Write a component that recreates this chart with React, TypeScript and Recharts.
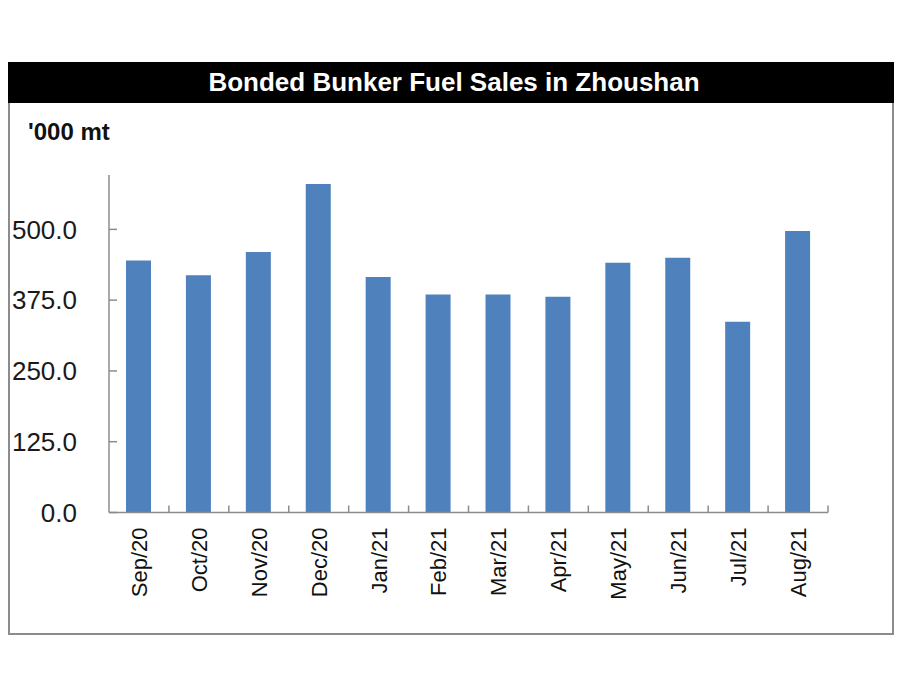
import React from "react";
import { BarChart, Bar, XAxis, YAxis } from "recharts";

const months = [
  "Sep/20", "Oct/20", "Nov/20", "Dec/20", "Jan/21", "Feb/21",
  "Mar/21", "Apr/21", "May/21", "Jun/21", "Jul/21", "Aug/21",
];
const sales = [445, 419, 460, 580, 416, 385, 385, 381, 441, 450, 337, 497];
const yTicks = [0, 125, 250, 375, 500];
const yMax = 596;

const data = months.map((month, i) => ({ month, sales: sales[i] }));

const FONT = "'Liberation Sans', Arial, sans-serif";
const AXIS_GREY = "#8c8c8c";

// category label plus a small inward tick at the right edge of each band
const MonthTick = (props: any) => {
  const { x, y, payload } = props;
  const half = payload && payload.offset ? payload.offset : 30;
  return (
    <g>
      <line x1={x + half} y1={y} x2={x + half} y2={y - 7} stroke={AXIS_GREY} strokeWidth={1.5} />
      <text
        x={x}
        y={y + 15}
        transform={`rotate(-90, ${x}, ${y + 15})`}
        textAnchor="end"
        dy="0.36em"
        fontSize={22}
        fontFamily={FONT}
        fill="#111"
      >
        {payload.value}
      </text>
    </g>
  );
};

const App = () => {
  return (
    <div style={{ position: "absolute", left: 0, top: 0, width: 900, height: 700, background: "#fff" }}>
      <div
        style={{
          position: "absolute",
          left: 8,
          top: 62,
          width: 882,
          height: 569,
          border: `2px solid ${AXIS_GREY}`,
        }}
      />
      <div
        style={{
          position: "absolute",
          left: 8,
          top: 62,
          width: 886,
          height: 41,
          background: "#000",
          color: "#fff",
          fontFamily: FONT,
          fontWeight: "bold",
          fontSize: 26,
          lineHeight: "41px",
          textAlign: "center",
          paddingLeft: 6,
          boxSizing: "border-box",
        }}
      >
        Bonded Bunker Fuel Sales in Zhoushan
      </div>
      <div
        style={{
          position: "absolute",
          left: 28,
          top: 118,
          fontFamily: FONT,
          fontWeight: "bold",
          fontSize: 24,
          lineHeight: "28px",
          color: "#111",
        }}
      >
        '000 mt
      </div>
      <div style={{ position: "absolute", left: 0, top: 0 }}>
        <BarChart
          width={900}
          height={700}
          data={data}
          margin={{ top: 175, right: 72, bottom: 97.5, left: 9 }}
        >
          <YAxis
            width={100}
            domain={[0, yMax]}
            ticks={yTicks}
            allowDataOverflow
            tickFormatter={(v) => Number(v).toFixed(1)}
            axisLine={{ stroke: AXIS_GREY, strokeWidth: 1.5 }}
            tickLine={{ stroke: AXIS_GREY, strokeWidth: 1.5 }}
            tickSize={-8}
            tickMargin={40}
            tick={{ fontSize: 26, fontFamily: FONT, fill: "#1a1a1a" }}
          />
          <XAxis
            dataKey="month"
            height={90}
            interval={0}
            axisLine={{ stroke: AXIS_GREY, strokeWidth: 1.5 }}
            tickLine={false}
            tickSize={0}
            tickMargin={0}
            tick={<MonthTick />}
          />
          <Bar dataKey="sales" fill="#4f81bd" barSize={25} isAnimationActive={false} />
        </BarChart>
      </div>
    </div>
  );
};

export default App;
